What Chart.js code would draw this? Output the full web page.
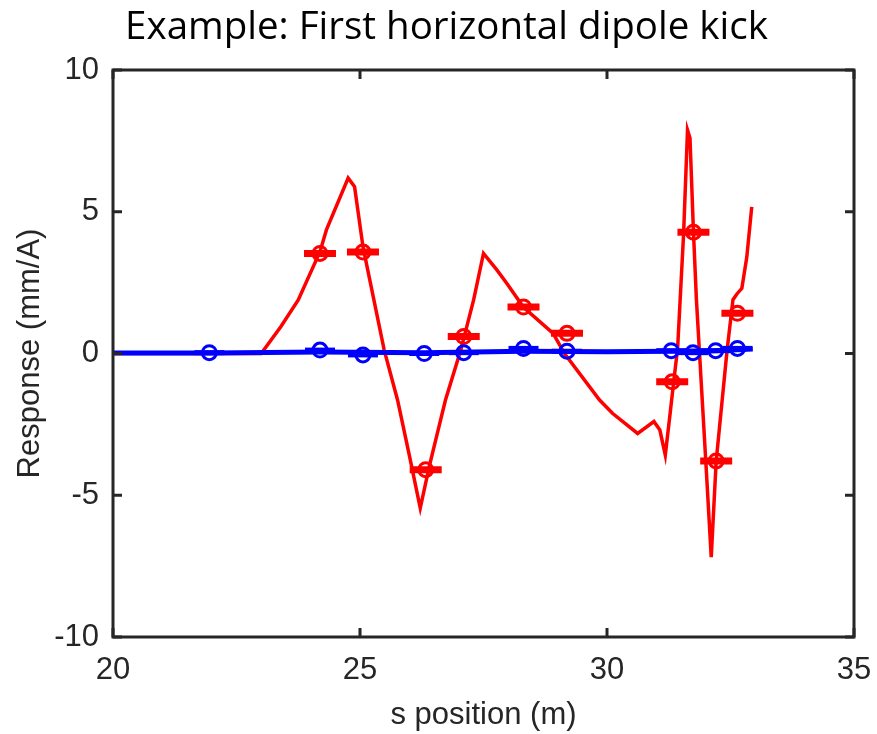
<!DOCTYPE html>
<html>
<head>
<meta charset="utf-8">
<title>First horizontal dipole kick</title>
<script src="https://cdn.jsdelivr.net/npm/chart.js@4/dist/chart.umd.min.js"></script>
<style>
  html, body { margin: 0; padding: 0; background: #fff; }
  canvas { display: block; }
</style>
</head>
<body>
<canvas id="chart-kick" width="877" height="734"></canvas>
<script>
// ── DONNÉES ────────────────────────────────────────────────
// Réponse modèle (courbe rouge continue)
const redS = [20, 23.0, 23.4, 23.75, 24.19, 24.32, 24.76, 24.89, 25.06, 25.49, 25.76,
              26.0, 26.22, 26.4, 26.73, 27.04, 27.3, 27.5, 27.77, 27.97, 28.31,
              28.91, 29.14, 29.85, 30.11, 30.62, 30.95, 31.07, 31.18, 31.27, 31.35,
              31.43, 31.55, 31.63, 31.68, 31.75, 31.81, 32.0, 32.11, 32.21, 32.43,
              32.55, 32.63, 32.73, 32.83, 32.93];
const redY = [0, 0, 0.95, 1.89, 3.59, 4.36, 6.19, 5.88, 3.77, 0.12, -1.64,
              -3.6, -5.45, -4.0, -1.64, 0.12, 1.89, 3.53, 2.95, 2.48, 1.63,
              0.71, 0.0, -1.64, -2.11, -2.82, -2.4, -2.7, -3.58, -2.23, -1.0,
              0.2, 4.2, 7.88, 7.6, 4.3, 1.9, -3.8, -7.18, -3.8, 0.1,
              1.9, 2.1, 2.3, 3.4, 5.17];

// Mesures BPM (rouge)
const redMarkS = [24.19, 25.06, 26.33, 27.1, 28.31, 29.19, 31.32, 31.75, 32.21, 32.64];
const redMarkY = [3.53, 3.58, -4.1, 0.6, 1.64, 0.71, -1.0, 4.28, -3.79, 1.42];

// Plan vertical (bleu) : courbe + mesures
const blueS = [20, 22, 24.2, 26.3, 28.3, 30, 31.3, 32.2, 32.95];
const blueY = [0.02, 0.02, 0.05, 0.03, 0.08, 0.06, 0.08, 0.1, 0.16];
const blueMarkS = [21.95, 24.19, 25.06, 26.3, 27.1, 28.31, 29.19, 31.3, 31.74, 32.2, 32.64];
const blueMarkY = [0.03, 0.12, -0.05, 0.0, 0.03, 0.18, 0.08, 0.1, 0.03, 0.1, 0.18];

// Graduations
const xTicks = [20, 25, 30, 35];
const yTicks = [-10, -5, 0, 5, 10];

const TITLE = 'Example: First horizontal dipole kick';
const X_LABEL = 's position (m)';
const Y_LABEL = 'Response (mm/A)';

// ── UTILITAIRE ─────────────────────────────────────────────
const toPoints = (xs, ys) => xs.map((x, i) => ({ x, y: ys[i] }));

const AXIS_COLOR = '#262626';
const LABEL_FONT = "'Liberation Sans', Arial, sans-serif";

// Fond blanc, titre, cadre + graduations intérieures (style MATLAB)
const framePlugin = {
  id: 'frame',
  beforeDraw(chart) {
    const { ctx } = chart;
    ctx.save();
    ctx.fillStyle = '#ffffff';
    ctx.fillRect(0, 0, chart.width, chart.height);
    ctx.restore();
  },
  afterDraw(chart) {
    const { ctx, chartArea: a, scales: { x, y } } = chart;
    const len = 9;
    ctx.save();
    // titre (légèrement décalé à droite du centre de la figure)
    ctx.fillStyle = '#000000';
    ctx.font = "38.5px 'Open Sans', sans-serif";
    ctx.textAlign = 'center';
    ctx.textBaseline = 'middle';
    ctx.fillText(TITLE, chart.width / 2 + 8, 28);

    ctx.strokeStyle = AXIS_COLOR;
    ctx.lineWidth = 3;
    ctx.beginPath();
    xTicks.forEach(v => {
      const px = x.getPixelForValue(v);
      ctx.moveTo(px, a.bottom); ctx.lineTo(px, a.bottom - len);
      ctx.moveTo(px, a.top);    ctx.lineTo(px, a.top + len);
    });
    yTicks.forEach(v => {
      const py = y.getPixelForValue(v);
      ctx.moveTo(a.left, py);  ctx.lineTo(a.left + len, py);
      ctx.moveTo(a.right, py); ctx.lineTo(a.right - len, py);
    });
    ctx.stroke();
    ctx.strokeRect(a.left, a.top, a.right - a.left, a.bottom - a.top);
    ctx.restore();
  }
};

const canvas = document.getElementById('chart-kick');

new Chart(canvas.getContext('2d'), {
  type: 'scatter',
  data: {
    datasets: [
      // order bas = dessiné au-dessus
      {
        label: 'bleu mesures',
        data: toPoints(blueMarkS, blueMarkY),
        pointStyle: 'circle',
        pointRadius: 7,
        pointBorderWidth: 3,
        pointBorderColor: '#0000ff',
        pointBackgroundColor: 'rgba(0,0,0,0)',
        order: 1
      },
      {
        label: 'bleu barres',
        data: toPoints(blueMarkS, blueMarkY),
        pointStyle: 'line',
        pointRadius: 15,
        pointBorderWidth: 5,
        pointBorderColor: '#0000ff',
        order: 2
      },
      {
        label: 'bleu',
        data: toPoints(blueS, blueY),
        showLine: true,
        borderColor: '#0000ff',
        borderWidth: 5,
        pointRadius: 0,
        tension: 0,
        order: 3
      },
      {
        label: 'rouge mesures',
        data: toPoints(redMarkS, redMarkY),
        pointStyle: 'circle',
        pointRadius: 7,
        pointBorderWidth: 3,
        pointBorderColor: '#ff0000',
        pointBackgroundColor: 'rgba(0,0,0,0)',
        order: 4
      },
      {
        label: 'rouge barres',
        data: toPoints(redMarkS, redMarkY),
        pointStyle: 'line',
        pointRadius: 16,
        pointBorderWidth: 7,
        pointBorderColor: '#ff0000',
        order: 5
      },
      {
        label: 'rouge',
        data: toPoints(redS, redY),
        showLine: true,
        borderColor: '#ff0000',
        borderWidth: 3.5,
        pointRadius: 0,
        tension: 0,
        order: 6
      }
    ]
  },
  options: {
    responsive: false,
    animation: false,
    devicePixelRatio: 1,
    layout: { padding: { left: 0, right: 20, top: 70, bottom: 0 } },
    plugins: {
      legend: { display: false },
      tooltip: { enabled: false },
      title: { display: false }
    },
    scales: {
      x: {
        type: 'linear',
        min: 20, max: 35,
        afterBuildTicks: s => { s.ticks = xTicks.map(v => ({ value: v })); },
        afterFit: s => { s.height = 97; s.paddingLeft = 0; s.paddingRight = 0; },
        grid: { display: false, drawTicks: false },
        border: { display: false },
        ticks: { color: AXIS_COLOR, padding: 15, font: { family: LABEL_FONT, size: 31 } },
        title: {
          display: true,
          text: X_LABEL,
          color: AXIS_COLOR,
          font: { family: LABEL_FONT, size: 31 },
          padding: { top: 0, bottom: 0 }
        }
      },
      y: {
        type: 'linear',
        min: -10, max: 10,
        afterBuildTicks: s => { s.ticks = yTicks.map(v => ({ value: v })); },
        afterFit: s => { s.width = 113; s.paddingTop = 0; s.paddingBottom = 0; },
        grid: { display: false, drawTicks: false },
        border: { display: false },
        ticks: { color: AXIS_COLOR, padding: 14, font: { family: LABEL_FONT, size: 31 } },
        title: {
          display: true,
          text: Y_LABEL,
          color: AXIS_COLOR,
          font: { family: LABEL_FONT, size: 31 },
          padding: { top: 12, bottom: 0 }
        }
      }
    }
  },
  plugins: [framePlugin]
});
</script>
</body>
</html>
